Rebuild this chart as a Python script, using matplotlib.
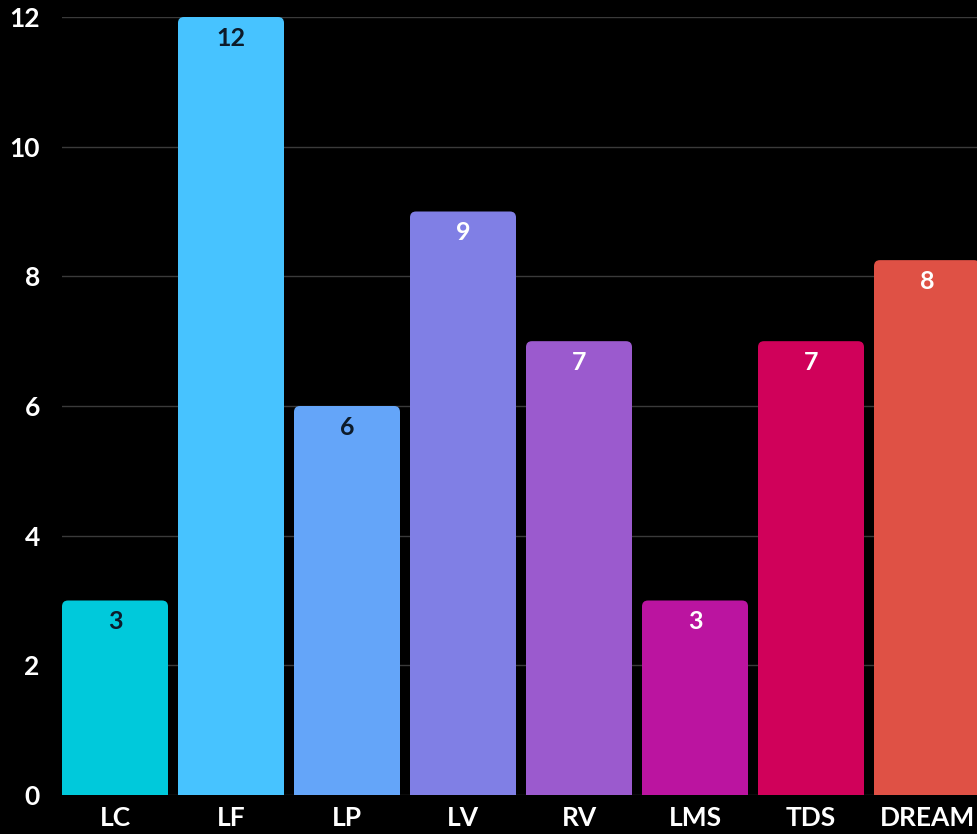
import numpy as np
import matplotlib.pyplot as plt
from matplotlib.patches import FancyBboxPatch

categories = ['LC', 'LF', 'LP', 'LV', 'RV', 'LMS', 'TDS', 'DREAM']
values = [3, 12, 6, 9, 7, 3, 7, 8.25]
value_labels = ['3', '12', '6', '9', '7', '3', '7', '8']
bar_colors = ['#00C9DB', '#47C3FF', '#64A5F9', '#807FE5', '#9B5ACE',
              '#BB14A0', '#D0015A', '#DF5145']
label_colors = ['#0d1b2a', '#0d1b2a', '#0d1b2a', 'white', 'white',
                'white', 'white', 'white']
yticks = [0, 2, 4, 6, 8, 10, 12]

plt.rcParams['font.family'] = ['Lato', 'DejaVu Sans']

W, H = 978, 834
fig = plt.figure(figsize=(W / 100, H / 100), dpi=100, facecolor='black')
ax = fig.add_axes([62 / W, 39 / H, 1 - 62 / W, (795 - 17) / H])
ax.set_facecolor('black')

width = 106 / 116
xx = np.arange(len(categories))
bars = ax.bar(xx, values, width=width, color=bar_colors)

ax.set_xlim(-width / 2, -width / 2 + 916 / 116)
ax.set_ylim(0, 12)

# swap the plain bars for ones with rounded top corners
px_x = 116.0          # pixels per x unit
px_y = 778 / 12.0     # pixels per y unit
r = 6.0               # corner radius in px
for b, c in zip(bars, bar_colors):
    x0, w, h = b.get_x(), b.get_width(), b.get_height()
    b.remove()
    p = FancyBboxPatch((x0, -0.5), w, h + 0.5,
                       boxstyle='round,pad=0,rounding_size=%f' % (r / px_x),
                       mutation_aspect=px_x / px_y,
                       facecolor=c, edgecolor='none', zorder=2)
    ax.add_patch(p)

for x, v, t, lc in zip(xx, values, value_labels, label_colors):
    ax.annotate(t, (x, v), xytext=(0, -7), textcoords='offset points',
                ha='center', va='top', color=lc, fontsize=18,
                fontweight='bold', zorder=3)

ax.set_yticks(yticks)
ax.set_yticklabels([str(t) for t in yticks])
ax.set_xticks(xx)
ax.set_xticklabels(categories)
ax.tick_params(axis='both', length=0, colors='white', labelsize=19)
ax.tick_params(axis='y', pad=16)
ax.tick_params(axis='x', pad=8)
for lab in ax.get_xticklabels() + ax.get_yticklabels():
    lab.set_fontweight('bold')

ax.grid(axis='y', color='#3a3a3a', linewidth=1, zorder=0)
ax.set_axisbelow(True)
for s in ax.spines.values():
    s.set_visible(False)

fig.savefig('out.png', dpi=100, facecolor='black')
